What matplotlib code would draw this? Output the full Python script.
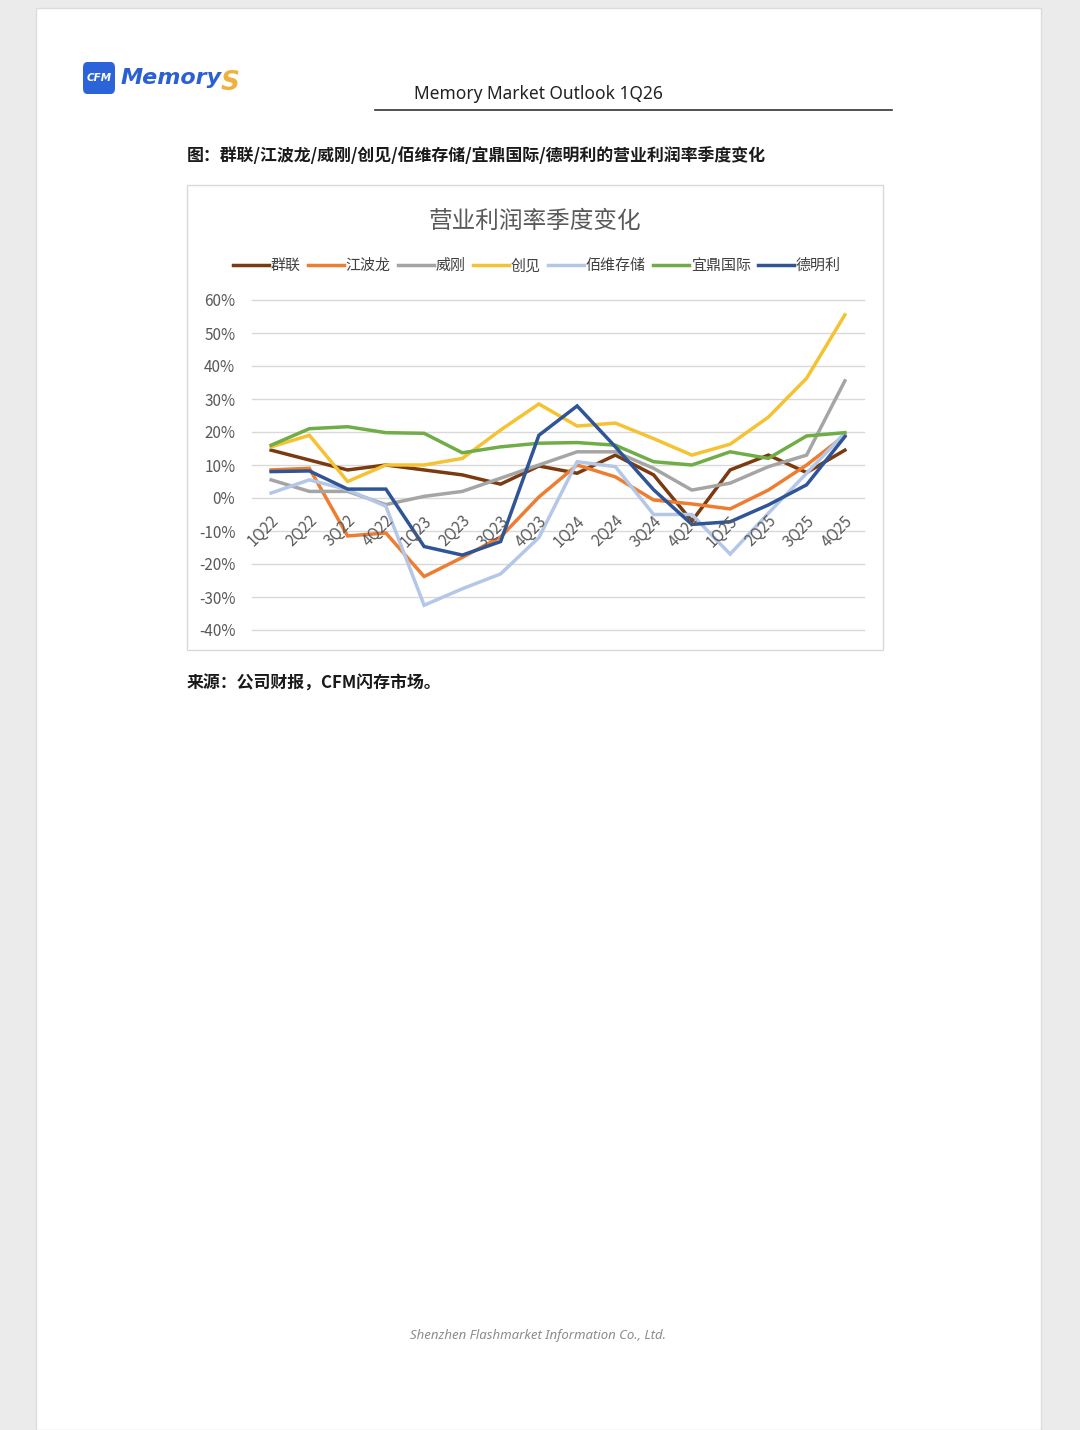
import matplotlib
matplotlib.use("Agg")
import matplotlib.pyplot as plt
import matplotlib.patches as mpatches

plt.rcParams["font.family"] = ["Noto Sans CJK SC", "DejaVu Sans"]

W, H = 1080, 1430

quarters = ["1Q22", "2Q22", "3Q22", "4Q22", "1Q23", "2Q23", "3Q23", "4Q23",
            "1Q24", "2Q24", "3Q24", "4Q24", "1Q25", "2Q25", "3Q25", "4Q25"]

phison   = [14.5, 11.5, 8.5, 10.0, 8.5, 7.0, 4.2, 9.7, 7.5, 13.0, 7.0, -7.0, 8.5, 13.0, 7.7, 14.5]
longsys  = [8.5, 9.0, -11.5, -10.6, -23.8, -18.0, -11.8, 0.3, 10.0, 6.4, -0.6, -1.8, -3.3, 2.4, 10.0, 19.0]
adata    = [5.5, 2.0, 2.0, -2.0, 0.5, 2.0, 6.0, 10.0, 14.0, 14.0, 9.0, 2.4, 4.5, 9.5, 13.0, 35.5]
transcend = [15.5, 19.0, 5.0, 10.0, 10.0, 12.0, 20.6, 28.5, 21.8, 22.7, 18.0, 13.0, 16.3, 24.5, 36.3, 55.5]
biwin    = [1.5, 5.5, 2.5, -2.5, -32.5, -27.5, -23.0, -12.0, 11.0, 9.5, -5.0, -5.0, -17.0, -4.6, 7.5, 19.7]
innodisk = [16.0, 21.0, 21.6, 19.8, 19.6, 13.7, 15.5, 16.6, 16.8, 16.0, 11.0, 10.0, 14.0, 12.0, 18.8, 19.8]
twsc     = [8.0, 8.2, 2.7, 2.7, -14.7, -17.3, -13.2, 19.0, 27.9, 15.5, 2.5, -8.0, -7.2, -2.1, 4.0, 18.6]

series_names = ["群联", "江波龙", "威刚", "创见", "佰维存储", "宜鼎国际", "德明利"]
series_vals = [phison, longsys, adata, transcend, biwin, innodisk, twsc]
series_colors = ["#7b3a10", "#ed7d31", "#a5a5a5", "#f5c233", "#b4c7e7", "#70ad47", "#2f5597"]

yticks = [-40, -30, -20, -10, 0, 10, 20, 30, 40, 50, 60]


def fx(x):
    return x / W


def fy(y):
    return 1 - y / H


fig = plt.figure(figsize=(W / 100, H / 100), dpi=100, facecolor="#ebebeb")

# paper sheet
fig.patches.append(mpatches.Rectangle((fx(36), 0), fx(1041) - fx(36), fy(8),
                                      transform=fig.transFigure, facecolor="white",
                                      edgecolor="#dcdcdc", linewidth=1, zorder=-3))

# logo
fig.patches.append(mpatches.FancyBboxPatch((fx(83), fy(94)), fx(32), fy(62) - fy(94),
                                           boxstyle="round,pad=0,rounding_size=0.004",
                                           transform=fig.transFigure, facecolor="#2b63d9",
                                           edgecolor="none", zorder=-1))
fig.text(fx(99), fy(78), "CFM", color="white", fontsize=7.5, fontweight="bold",
         ha="center", va="center", family="DejaVu Sans", style="italic")
fig.text(fx(121), fy(78), "Memory", color="#2b5fd4", fontsize=16, fontweight="bold",
         style="italic", ha="left", va="center", family="DejaVu Sans")
fig.text(fx(221), fy(83), "S", color="#f0b040", fontsize=19, fontweight="bold",
         style="italic", ha="left", va="center", family="DejaVu Sans")

# header
fig.text(fx(538), fy(94), "Memory Market Outlook 1Q26", fontsize=12.5, color="#222222",
         ha="center", va="center", family="Noto Sans")
fig.add_artist(plt.Line2D([fx(375), fx(892)], [fy(110), fy(110)], color="#333333",
                          linewidth=1.2, transform=fig.transFigure))

fig.text(fx(187), fy(156), "图：群联/江波龙/威刚/创见/佰维存储/宜鼎国际/德明利的营业利润率季度变化",
         fontsize=12.2, color="#1a1a1a", fontweight="bold", ha="left", va="center")

# chart frame
fig.patches.append(mpatches.Rectangle((fx(187), fy(650)), fx(883) - fx(187), fy(185) - fy(650),
                                      transform=fig.transFigure, facecolor="white",
                                      edgecolor="#d9d9d9", linewidth=1, zorder=-2))
fig.text(fx(535), fy(221), "营业利润率季度变化", fontsize=17, color="#595959",
         ha="center", va="center")

ax = fig.add_axes([fx(252), fy(630), fx(864) - fx(252), fy(300) - fy(630)])
ax.set_facecolor("none")
x = list(range(len(quarters)))
for name, vals, col in zip(series_names, series_vals, series_colors):
    ax.plot(x, vals, color=col, linewidth=2.5, label=name, solid_joinstyle="miter")

ax.set_xlim(-0.5, len(quarters) - 0.5)
ax.set_ylim(-40, 60)
ax.set_yticks(yticks)
ax.set_yticklabels([f"{v}%" for v in yticks], fontsize=11, color="#595959")
ax.tick_params(axis="y", length=0, pad=12)
ax.set_xticks([])
ax.grid(axis="y", color="#d9d9d9", linewidth=1)
for gl in ax.get_ygridlines():
    gl.set_clip_on(False)
ax.set_axisbelow(True)
for s in ax.spines.values():
    s.set_visible(False)

for i, q in enumerate(quarters):
    ax.text(i - 0.02, -4.3, q, rotation=45, ha="right", va="top",
            rotation_mode="anchor", fontsize=11, color="#595959")

ax.legend(loc="center", bbox_to_anchor=(fx(537), fy(266)), bbox_transform=fig.transFigure,
          ncol=7, frameon=False, fontsize=10.8, handlelength=2.4, handletextpad=0.1,
          columnspacing=0.5, labelcolor="#404040")

fig.text(fx(187), fy(684), "来源：公司财报，CFM闪存市场。", fontsize=12.2, color="#1a1a1a",
         fontweight="bold", ha="left", va="center")

fig.text(fx(538), fy(1335), "Shenzhen Flashmarket Information Co., Ltd.", fontsize=9.5,
         color="#8c8c8c", style="italic", ha="center", va="center", family="Noto Sans")

fig.savefig("out.png", dpi=100, facecolor=fig.get_facecolor())
